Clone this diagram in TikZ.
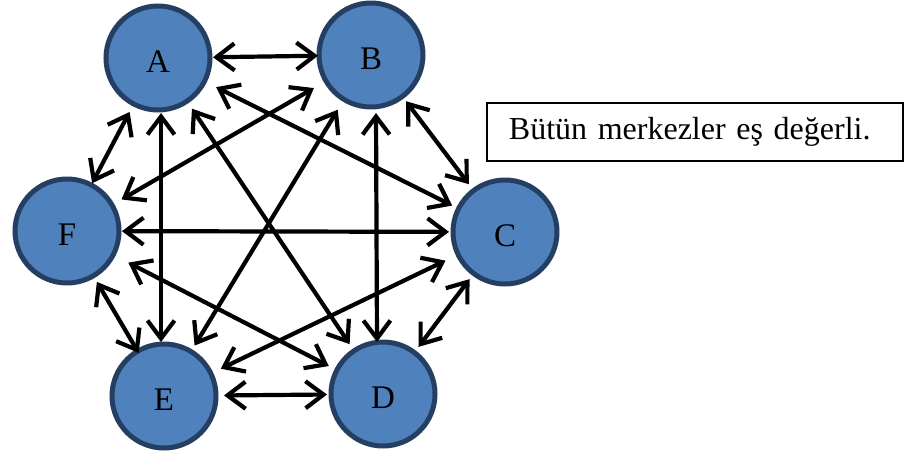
\documentclass[tikz,border=0pt]{standalone}
\usepackage{fontspec}
\setmainfont{Liberation Serif}
\usetikzlibrary{arrows.meta,calc}
\definecolor{nodefill}{HTML}{4F81BD}
\definecolor{nodeedge}{HTML}{243F62}
\begin{document}
\begin{tikzpicture}[x=1pt,y=-1pt,
  hub/.style={circle, draw=nodeedge, fill=nodefill, line width=5pt, minimum size=104pt, inner sep=0pt, text height=28pt, text depth=0pt, font=\fontsize{33}{38}\selectfont},
  tipb/.tip={Straight Barb[length=18pt,width=27pt]},
  link/.style={line width=4.2pt, tipb-tipb},
  note/.style={draw, line width=1.8pt, minimum height=58pt, inner xsep=22pt, text width=372pt, align=left, font=\fontsize{32}{38}\selectfont}]
\useasboundingbox (0,0) rectangle (904,450);
\node[hub] (A) at (158,58) {A};
\node[hub] (B) at (371,55) {B};
\node[hub] (C) at (505,232) {C};
\node[hub] (D) at (383,394) {D};
\node[hub] (E) at (164,396) {E};
\node[hub] (F) at (67,231) {F};
\node[note, anchor=west] (N) at (486,132) {Bütün merkezler eş değerli.};
\draw[link] ($(A)!55pt!(B)$) -- ($(B)!53pt!(A)$);
\draw[link] ($(A)!65pt!(C)$) -- ($(C)!59pt!(A)$);
\draw[link] ($(A)!61pt!(D)$) -- ($(D)!60pt!(A)$);
\draw[link] ($(A)+(3,55)$) -- ($(E)+(-3,-54)$);
\draw[link] ($(A)!61pt!(F)$) -- ($(F)!54pt!(A)$);
\draw[link] ($(B)!58pt!(C)$) -- ($(C)!60pt!(B)$);
\draw[link] ($(B)+(5,58)$) -- ($(D)+(-6,-52)$);
\draw[link] ($(B)!64pt!(E)$) -- ($(E)!59pt!(B)$);
\draw[link] ($(B)!66pt!(F)$) -- ($(F)!63pt!(B)$);
\draw[link] ($(C)!59pt!(D)$) -- ($(D)!59pt!(C)$);
\draw[link] ($(C)!66pt!(E)$) -- ($(E)!63pt!(C)$);
\draw[link] ($(C)!56pt!(F)$) -- ($(F)!55pt!(C)$);
\draw[link] ($(D)!56pt!(E)$) -- ($(E)!60pt!(D)$);
\draw[link] ($(D)!61pt!(F)$) -- ($(F)!69pt!(D)$);
\draw[link] ($(E)!50pt!(F)$) -- ($(F)!59pt!(E)$);
\end{tikzpicture}
\end{document}
